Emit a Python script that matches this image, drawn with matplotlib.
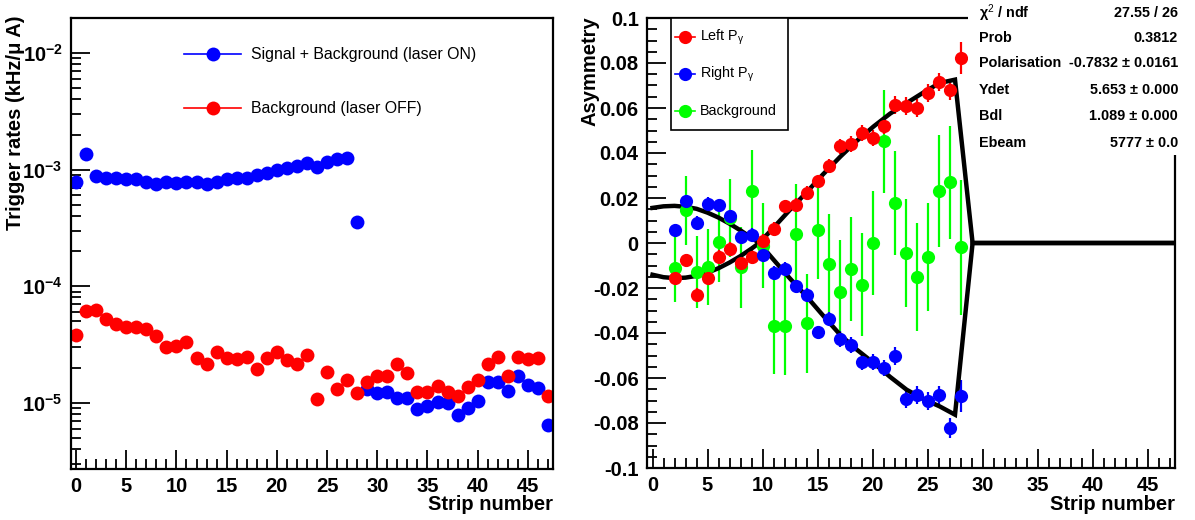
import numpy as np
import matplotlib
matplotlib.use("Agg")
import matplotlib.pyplot as plt
from matplotlib.lines import Line2D
from matplotlib.patches import Rectangle
from matplotlib.ticker import FixedLocator, MultipleLocator, FuncFormatter

plt.rcParams['font.family'] = ['Liberation Sans', 'DejaVu Sans']
plt.rcParams['mathtext.fontset'] = 'custom'
plt.rcParams['mathtext.rm'] = 'Liberation Sans'
plt.rcParams['mathtext.it'] = 'Liberation Sans:italic'
plt.rcParams['mathtext.bf'] = 'Liberation Sans:bold'

# ---- trigger rates per strip (kHz/uA) ----
strips_on = list(range(0, 48))
rate_on = [7.8e-4, 1.36e-3, 8.8e-4, 8.4e-4, 8.4e-4, 8.3e-4, 8.3e-4, 7.9e-4, 7.6e-4, 7.9e-4,
           7.7e-4, 7.9e-4, 7.9e-4, 7.5e-4, 7.9e-4, 8.3e-4, 8.5e-4, 8.5e-4, 9.0e-4, 9.3e-4,
           9.9e-4, 1.04e-3, 1.08e-3, 1.15e-3, 1.06e-3, 1.17e-3, 1.24e-3, 1.27e-3, 3.58e-4, 1.30e-5,
           1.22e-5, 1.24e-5, 1.09e-5, 1.09e-5, 8.8e-6, 9.4e-6, 1.02e-5, 1.0e-5, 7.8e-6, 8.95e-6,
           1.04e-5, 1.51e-5, 1.51e-5, 1.27e-5, 1.69e-5, 1.42e-5, 1.33e-5, 6.44e-6]
strips_off = list(range(0, 48))
rate_off = [3.81e-5, 6.17e-5, 6.25e-5, 5.2e-5, 4.71e-5, 4.44e-5, 4.49e-5, 4.26e-5, 3.74e-5, 3.03e-5,
            3.08e-5, 3.34e-5, 2.40e-5, 2.14e-5, 2.74e-5, 2.43e-5, 2.37e-5, 2.48e-5, 1.94e-5, 2.40e-5,
            2.74e-5, 2.33e-5, 2.15e-5, 2.56e-5, 1.07e-5, 1.85e-5, 1.30e-5, 1.57e-5, 1.2e-5, 1.51e-5,
            1.69e-5, 1.69e-5, 2.14e-5, 1.79e-5, 1.24e-5, 1.24e-5, 1.39e-5, 1.24e-5, 1.14e-5, 1.37e-5,
            1.57e-5, 2.15e-5, 2.45e-5, 1.69e-5, 2.48e-5, 2.37e-5, 2.4e-5, 1.14e-5]

# ---- asymmetries per strip ----
strips_asym = list(range(2, 29))
asym_left = [-0.0156, -0.0077, -0.0230, -0.0156, -0.0060, -0.0027, -0.0090, -0.0062, 0.0010, 0.0062,
             0.0163, 0.0170, 0.0222, 0.0274, 0.0344, 0.0429, 0.0441, 0.0489, 0.0467, 0.0518,
             0.0615, 0.0607, 0.0600, 0.0667, 0.0714, 0.0680, 0.0822]
err_left = [0.003, 0.003, 0.003, 0.003, 0.003, 0.003, 0.003, 0.003, 0.003, 0.003,
            0.003, 0.003, 0.003, 0.003, 0.003, 0.0035, 0.0035, 0.0035, 0.0035, 0.0035,
            0.004, 0.004, 0.004, 0.004, 0.004, 0.0045, 0.007]
asym_right = [0.0056, 0.0185, 0.0089, 0.0175, 0.0167, 0.0118, 0.0027, 0.0037, -0.0052, -0.0133,
              -0.0116, -0.0193, -0.0230, -0.0397, -0.0336, -0.0425, -0.0452, -0.0529, -0.0529, -0.0556,
              -0.0504, -0.0692, -0.0677, -0.0704, -0.0677, -0.0822, -0.0679]
err_right = [0.003, 0.003, 0.003, 0.003, 0.003, 0.003, 0.003, 0.003, 0.003, 0.003,
             0.003, 0.003, 0.003, 0.003, 0.003, 0.0035, 0.0035, 0.0035, 0.0035, 0.0035,
             0.004, 0.004, 0.004, 0.004, 0.004, 0.0045, 0.007]
asym_bkg = [-0.0111, 0.0145, -0.0131, -0.0107, 0.0003, 0.0111, -0.0107, 0.0232, -0.0012, -0.0371,
            -0.0367, 0.0041, -0.0356, 0.0059, -0.0093, -0.0218, -0.0116, -0.0185, 0.0000, 0.0452,
            0.0178, -0.0044, -0.0151, -0.0060, 0.0232, 0.0269, -0.0018]
err_bkg = [0.015, 0.0155, 0.016, 0.017, 0.0175, 0.0175, 0.018, 0.018, 0.019, 0.021,
           0.022, 0.022, 0.022, 0.022, 0.022, 0.023, 0.023, 0.023, 0.023, 0.023,
           0.023, 0.024, 0.024, 0.024, 0.025, 0.025, 0.030]

# fitted asymmetry curves (left and right helicity)
fit_x = [0, 1, 2, 3, 4, 5, 6, 7, 8, 9, 9.7, 11, 12.5, 14, 15.5, 17.1, 18.6, 20.1, 21.6,
         23.1, 24.6, 26.1, 27.5, 29.1, 47.5]
fit_left = [-0.0141, -0.0152, -0.0156, -0.0154, -0.0146, -0.0132, -0.0112, -0.0087, -0.0058, -0.0025,
            0.0, 0.0068, 0.0148, 0.0225, 0.0305, 0.0385, 0.0455, 0.0518, 0.0575, 0.0622,
            0.0668, 0.0711, 0.0726, 0.0, 0.0]
fit_right = [0.0156, 0.0163, 0.0165, 0.0161, 0.0152, 0.0135, 0.0113, 0.0086, 0.0056, 0.0023,
             0.0, -0.0074, -0.0158, -0.0237, -0.0322, -0.0410, -0.0475, -0.0533, -0.0595, -0.0652,
             -0.0693, -0.0726, -0.0763, 0.0, 0.0]

asym_labels = [r"Left P$_{\mathrm{γ}}$", r"Right P$_{\mathrm{γ}}$", "Background"]
asym_colors = ['red', 'blue', (0, 1, 0)]

stat_names = ["χ$^{2}$ / ndf", "Prob", "Polarisation", "Ydet", "Bdl", "Ebeam"]
stat_values = ["27.55 / 26", "0.3812", "-0.7832 ± 0.0161", "5.653 ± 0.000", "1.089 ± 0.000", "5777 ± 0.0"]

W, H = 1195, 520
fig = plt.figure(figsize=(W / 100, H / 100), dpi=100)

def fx(x):
    return x / W

def fy(y):
    return 1 - y / H

def px_axes(x0, y0, x1, y1):
    return fig.add_axes([fx(x0), fy(y1), (x1 - x0) / W, (y1 - y0) / H])

def root_style(ax):
    for s in ax.spines.values():
        s.set_linewidth(1.6)
    ax.tick_params(which='both', direction='in', top=False, right=False, width=1.3,
                   labelsize=14.5, pad=6)
    ax.tick_params(which='major', length=14)
    ax.tick_params(which='minor', length=7)
    for lab in ax.get_xticklabels() + ax.get_yticklabels():
        lab.set_fontweight('bold')

ms = 10

# ---------- left panel ----------
ax1 = px_axes(71, 18, 553, 469)
ax1.set_yscale('log')
ax1.plot(strips_on, rate_on, 'o', color='blue', ms=ms, mec='none')
ax1.plot(strips_off, rate_off, 'o', color='red', ms=ms, mec='none')
ax1.set_xlim(-0.5, 47.5)
ax1.set_ylim(2.7e-6, 2.0e-2)
ax1.xaxis.set_major_locator(MultipleLocator(5))
ax1.xaxis.set_minor_locator(MultipleLocator(1))
ax1.yaxis.set_major_locator(FixedLocator([1e-5, 1e-4, 1e-3, 1e-2]))
ax1.yaxis.set_major_formatter(FuncFormatter(lambda v, p: r"$\mathbf{10^{%d}}$" % round(np.log10(v))))
minor = [m * 10.0 ** e for e in range(-6, -1) for m in range(2, 10)]
ax1.yaxis.set_minor_locator(FixedLocator(minor))
ax1.yaxis.set_minor_formatter(FuncFormatter(lambda v, p: ""))
root_style(ax1)

h_on = Line2D([], [], color='blue', marker='o', ms=ms, lw=1.2, mec='none')
h_off = Line2D([], [], color='red', marker='o', ms=ms, lw=1.2, mec='none')
ax1.legend([h_on, h_off], ["Signal + Background (laser ON)", "Background (laser OFF)"],
           loc='upper left', bbox_to_anchor=((178 - 71) / 482, 1 - (41 - 18) / 451),
           frameon=False, fontsize=11.4, handlelength=3.6, labelspacing=2.45,
           handletextpad=0.6, borderaxespad=0)

fig.text(fx(16), fy(16), "Trigger rates (kHz/μ A)", rotation=90, ha='center', va='top',
         fontsize=14.5, fontweight='bold')
fig.text(fx(553), fy(505), "Strip number", ha='right', va='center',
         fontsize=14.5, fontweight='bold')

# ---------- right panel ----------
ax2 = px_axes(647, 18, 1175, 468)
eb = dict(fmt='o', ms=9.5, mec='none', elinewidth=1.6, capsize=0)
ax2.errorbar(strips_asym, asym_bkg, yerr=err_bkg, color=asym_colors[2], **eb)
ax2.errorbar(strips_asym, asym_left, yerr=err_left, color=asym_colors[0], **eb)
ax2.errorbar(strips_asym, asym_right, yerr=err_right, color=asym_colors[1], **eb)
ax2.plot(fit_x, fit_left, color='black', lw=3.2, solid_joinstyle='miter')
ax2.plot(fit_x, fit_right, color='black', lw=3.2, solid_joinstyle='miter')
ax2.set_xlim(-0.5, 47.5)
ax2.set_ylim(-0.1, 0.1)
ax2.xaxis.set_major_locator(MultipleLocator(5))
ax2.xaxis.set_minor_locator(MultipleLocator(1))
ax2.yaxis.set_major_locator(MultipleLocator(0.02))
ax2.yaxis.set_minor_locator(MultipleLocator(0.005))

def asym_fmt(v, p):
    if abs(v) < 1e-9:
        return "0"
    if abs(abs(v) - 0.1) < 1e-9:
        return "%.1f" % v
    return "%.2f" % v

ax2.yaxis.set_major_formatter(FuncFormatter(asym_fmt))
root_style(ax2)

# legend box drawn in figure pixels
fig.patches.append(Rectangle((fx(671), fy(130)), (788 - 671) / W, (130 - 18) / H,
                             transform=fig.transFigure, facecolor='white',
                             edgecolor='black', lw=1.2, zorder=4))
for lab, col, yy in zip(asym_labels, asym_colors, [37, 74, 111]):
    fig.add_artist(Line2D([fx(675), fx(695)], [fy(yy), fy(yy)], color=col, lw=1.2,
                          transform=fig.transFigure, zorder=5))
    fig.add_artist(Line2D([fx(685)], [fy(yy)], color=col, marker='o', ms=9.5, mec='none',
                          transform=fig.transFigure, zorder=5))
    fig.text(fx(700), fy(yy), lab, ha='left', va='center', fontsize=10.4, zorder=5)

fig.text(fx(590), fy(16), "Asymmetry", rotation=90, ha='center', va='top',
         fontsize=14.5, fontweight='bold')
fig.text(fx(1175), fy(505), "Strip number", ha='right', va='center',
         fontsize=14.5, fontweight='bold')

# fit statistics box
fig.patches.append(Rectangle((fx(968), fy(155)), (W - 968) / W, 155 / H,
                             transform=fig.transFigure, facecolor='white', edgecolor='none',
                             zorder=5))
rows_y = [13, 38, 63, 90, 116, 143]
for name, val, yy in zip(stat_names, stat_values, rows_y):
    fig.text(fx(979), fy(yy), name, ha='left', va='center', fontsize=10.4,
             fontweight='bold', zorder=6)
    fig.text(fx(1178), fy(yy), val, ha='right', va='center', fontsize=10.4,
             fontweight='bold', zorder=6)

fig.savefig("out.png", dpi=100)
